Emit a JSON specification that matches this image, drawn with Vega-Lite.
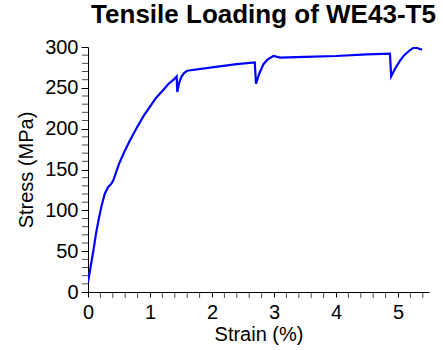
{
  "$schema": "https://vega.github.io/schema/vega-lite/v6.json",
  "width": 341,
  "height": 245,
  "autosize": {"type": "none"},
  "padding": {"left": 88, "top": 47, "right": 14, "bottom": 58},
  "background": "white",
  "title": {
    "text": "Tensile Loading of WE43-T5",
    "font": "Liberation Sans",
    "fontSize": 26,
    "fontWeight": "bold",
    "color": "black",
    "anchor": "middle",
    "dx": 5,
    "offset": 9
  },
  "config": {
    "view": {"stroke": null},
    "axis": {
      "grid": false,
      "domainColor": "black",
      "tickColor": "black",
      "labelColor": "black",
      "titleColor": "black",
      "labelFont": "Liberation Sans",
      "titleFont": "Liberation Sans",
      "labelFontSize": 20,
      "titleFontSize": 20,
      "titleFontWeight": "normal",
      "domainWidth": 1,
      "tickWidth": 1
    }
  },
  "data": {
    "values": [
      {"strain": 0.0, "stress": 12},
      {"strain": 0.04, "stress": 30},
      {"strain": 0.09, "stress": 52},
      {"strain": 0.13, "stress": 72},
      {"strain": 0.17, "stress": 88},
      {"strain": 0.22, "stress": 106},
      {"strain": 0.27, "stress": 120},
      {"strain": 0.32, "stress": 128},
      {"strain": 0.38, "stress": 133},
      {"strain": 0.41, "stress": 137},
      {"strain": 0.5, "stress": 157},
      {"strain": 0.6, "stress": 174},
      {"strain": 0.68, "stress": 186},
      {"strain": 0.8, "stress": 203},
      {"strain": 0.9, "stress": 216},
      {"strain": 1.0, "stress": 227},
      {"strain": 1.1, "stress": 238},
      {"strain": 1.21, "stress": 247},
      {"strain": 1.3, "stress": 255},
      {"strain": 1.38, "stress": 260},
      {"strain": 1.43, "stress": 264},
      {"strain": 1.44, "stress": 245},
      {"strain": 1.47, "stress": 256},
      {"strain": 1.51, "stress": 264},
      {"strain": 1.55, "stress": 268},
      {"strain": 1.6, "stress": 271},
      {"strain": 2.0, "stress": 275},
      {"strain": 2.4, "stress": 279},
      {"strain": 2.69, "stress": 281},
      {"strain": 2.71, "stress": 255},
      {"strain": 2.76, "stress": 267},
      {"strain": 2.83, "stress": 279},
      {"strain": 2.9, "stress": 285},
      {"strain": 2.99, "stress": 289},
      {"strain": 3.1, "stress": 287},
      {"strain": 3.5, "stress": 288},
      {"strain": 4.0, "stress": 289},
      {"strain": 4.5, "stress": 291},
      {"strain": 4.87, "stress": 292},
      {"strain": 4.89, "stress": 264},
      {"strain": 4.95, "stress": 273},
      {"strain": 5.03, "stress": 283},
      {"strain": 5.1, "stress": 290},
      {"strain": 5.19, "stress": 296},
      {"strain": 5.25, "stress": 299},
      {"strain": 5.3, "stress": 299},
      {"strain": 5.35, "stress": 297.5},
      {"strain": 5.39, "stress": 297}
    ]
  },
  "layer": [
    {
      "mark": {"type": "line", "color": "#0000ff", "strokeWidth": 2.2, "clip": true},
      "encoding": {
        "x": {
          "field": "strain",
          "type": "quantitative",
          "scale": {"domain": [0, 5.5], "nice": false, "zero": false},
          "axis": {
            "title": "Strain (%)",
            "values": [0, 1, 2, 3, 4, 5],
            "format": "d",
            "tickSize": 5,
            "labelPadding": 5,
            "titlePadding": 2,
            "labelFlush": false
          }
        },
        "y": {
          "field": "stress",
          "type": "quantitative",
          "scale": {"domain": [0, 300], "nice": false},
          "axis": {
            "title": "Stress (MPa)",
            "values": [0, 50, 100, 150, 200, 250, 300],
            "format": "d",
            "tickSize": 7,
            "labelPadding": 3,
            "titlePadding": 8,
            "labelFlush": false
          }
        }
      }
    },
    {
      "data": {"values": [
        {"s": 0.2}, {"s": 0.4}, {"s": 0.6}, {"s": 0.8},
        {"s": 1.2}, {"s": 1.4}, {"s": 1.6}, {"s": 1.8},
        {"s": 2.2}, {"s": 2.4}, {"s": 2.6}, {"s": 2.8},
        {"s": 3.2}, {"s": 3.4}, {"s": 3.6}, {"s": 3.8},
        {"s": 4.2}, {"s": 4.4}, {"s": 4.6}, {"s": 4.8},
        {"s": 5.2}, {"s": 5.4}
      ]},
      "mark": {"type": "tick", "orient": "vertical", "color": "black", "thickness": 1, "size": 6, "yOffset": 3},
      "encoding": {
        "x": {"field": "s", "type": "quantitative"},
        "y": {"datum": 0, "type": "quantitative"}
      }
    },
    {
      "data": {"values": [
        {"p": 10}, {"p": 20}, {"p": 30}, {"p": 40},
        {"p": 60}, {"p": 70}, {"p": 80}, {"p": 90},
        {"p": 110}, {"p": 120}, {"p": 130}, {"p": 140},
        {"p": 160}, {"p": 170}, {"p": 180}, {"p": 190},
        {"p": 210}, {"p": 220}, {"p": 230}, {"p": 240},
        {"p": 260}, {"p": 270}, {"p": 280}, {"p": 290}
      ]},
      "mark": {"type": "tick", "orient": "horizontal", "color": "black", "thickness": 1, "size": 6, "xOffset": -3},
      "encoding": {
        "y": {"field": "p", "type": "quantitative"},
        "x": {"datum": 0, "type": "quantitative"}
      }
    }
  ]
}
